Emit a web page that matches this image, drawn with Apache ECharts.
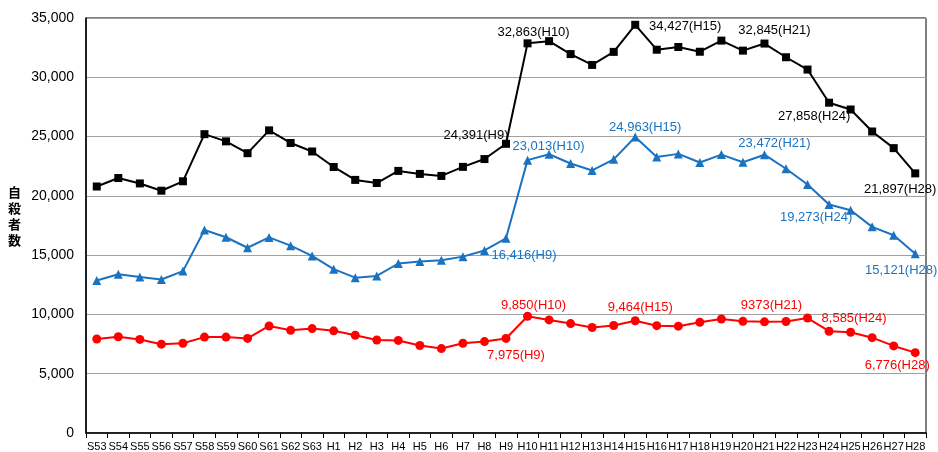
<!DOCTYPE html>
<html>
<head>
<meta charset="utf-8">
<script src="https://cdn.jsdelivr.net/npm/echarts@6/dist/echarts.min.js"></script>
<style>
  html, body { margin: 0; padding: 0; background: #fff; }
  #chart { width: 938px; height: 452px; }
</style>
</head>
<body>
<div id="chart"></div>
<script>
// 年別自殺者数（総数・男性・女性）
const categories = [
  'S53','S54','S55','S56','S57','S58','S59','S60','S61','S62','S63',
  'H1','H2','H3','H4','H5','H6','H7','H8','H9','H10',
  'H11','H12','H13','H14','H15','H16','H17','H18','H19','H20',
  'H21','H22','H23','H24','H25','H26','H27','H28'
];
const totalCounts = [
  20788, 21503, 21048, 20434, 21228, 25202, 24596, 23599, 25524, 24460, 23742,
  22436, 21346, 21084, 22104, 21851, 21679, 22445, 23104, 24391, 32863,
  33048, 31957, 31042, 32143, 34427, 32325, 32552, 32155, 33093, 32249,
  32845, 31690, 30651, 27858, 27283, 25427, 24025, 21897
];
const maleCounts = [
  12859, 13386, 13155, 12942, 13654, 17116, 16508, 15624, 16497, 15802, 14934,
  13818, 13102, 13242, 14296, 14468, 14560, 14874, 15393, 16416, 23013,
  23512, 22727, 22144, 23080, 24963, 23272, 23540, 22813, 23478, 22831,
  23472, 22283, 20955, 19273, 18787, 17386, 16681, 15121
];
const femaleCounts = [
  7929, 8117, 7893, 7492, 7574, 8086, 8088, 7975, 9027, 8658, 8808,
  8618, 8244, 7842, 7808, 7383, 7119, 7571, 7711, 7975, 9850,
  9536, 9230, 8898, 9063, 9464, 9053, 9012, 9342, 9615, 9418,
  9373, 9407, 9696, 8585, 8496, 8041, 7344, 6776
];
const yTicks = { min: 0, max: 35000, step: 5000 };

// label placement (offset of the label centre from its point)
const totalLabels = {
  H9: { off: [-30, -8] }, H10: { off: [6, -11] }, H15: { off: [50, 2] },
  H21: { off: [10, -13] }, H24: { off: [-15, 14] }, H28: { off: [-15, 16] }
};
const maleLabels = {
  H9: { off: [18, 17] }, H10: { off: [21, -14] }, H15: { off: [10, -10] },
  H21: { off: [10, -11] }, H24: { off: [-13, 13] }, H28: { off: [-14, 17] }
};
const femaleLabels = {
  H9: { off: [10, 17] }, H10: { off: [6, -11] }, H15: { off: [5, -13] },
  H21: { off: [7, -16], plain: true }, H24: { off: [25, -13] }, H28: { off: [-18, 13] }
};

const FONT = "'Liberation Sans', Arial, sans-serif";
const fmt = v => v.toLocaleString('en-US');

function buildData(values, labels, color) {
  return values.map((v, i) => {
    const cfg = labels[categories[i]];
    if (!cfg) return v;
    return {
      value: v,
      label: {
        show: true,
        position: 'inside',
        offset: cfg.off,
        color: color,
        fontSize: 13,
        fontFamily: FONT,
        formatter: p => (cfg.plain ? String(p.value) : fmt(p.value)) + '(' + p.name + ')'
      }
    };
  });
}

function lineSeries(name, values, labels, color, symbol, size) {
  return {
    name: name,
    type: 'line',
    data: buildData(values, labels, color),
    symbol: symbol,
    symbolSize: size,
    showAllSymbol: true,
    lineStyle: { color: color, width: 2 },
    itemStyle: { color: color },
    emphasis: { disabled: true },
    animation: false
  };
}

const chart = echarts.init(document.getElementById('chart'), null, { renderer: 'canvas' });
chart.setOption({
  backgroundColor: '#fff',
  animation: false,
  grid: {
    left: 86, right: 12, top: 18, bottom: 19,
    show: true, borderColor: '#000', borderWidth: 1
  },
  xAxis: {
    type: 'category',
    data: categories,
    boundaryGap: true,
    axisLine: { lineStyle: { color: '#000', width: 1.5 } },
    axisTick: { show: true, length: 5, lineStyle: { color: '#000' } },
    axisLabel: { color: '#000', fontSize: 11, fontFamily: FONT, interval: 0, margin: 8 },
    splitLine: { show: false }
  },
  yAxis: {
    type: 'value',
    min: yTicks.min,
    max: yTicks.max,
    interval: yTicks.step,
    axisLine: { show: true, lineStyle: { color: '#000', width: 1.5 } },
    axisTick: { show: false },
    axisLabel: { color: '#000', fontSize: 14, fontFamily: FONT, margin: 12, formatter: v => fmt(v) },
    splitLine: { lineStyle: { color: '#a0a0a0', width: 1 } }
  },
  graphic: [{
    type: 'text',
    left: 8,
    top: 184,
    style: {
      text: '自\n殺\n者\n数',
      font: "bold 13px 'Noto Sans CJK JP', sans-serif",
      fill: '#000',
      lineHeight: 16
    }
  }],
  series: [
    lineSeries('総数', totalCounts, totalLabels, '#000000', 'rect', 8),
    lineSeries('男性', maleCounts, maleLabels, '#1a72c0', 'triangle', 9),
    lineSeries('女性', femaleCounts, femaleLabels, '#ff0000', 'circle', 9)
  ]
});
</script>
</body>
</html>
